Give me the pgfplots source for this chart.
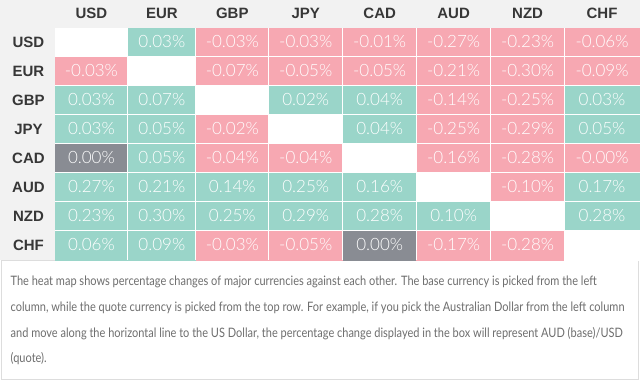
\documentclass[border=0pt]{standalone}
\usepackage{pgfplots}
\pgfplotsset{compat=1.18}
\usepackage{pgfplotstable}
\usepackage{fontspec}
\setmainfont{Lato}
\newfontfamily\hdrfont{Liberation Sans}
\newfontfamily\numfont{Lato Light}
\newfontfamily\descfont[FakeStretch=0.847]{Lato}
\definecolor{bgrey}{HTML}{F2F2F2}
\definecolor{hdrtxt}{HTML}{373737}
\definecolor{desctxt}{HTML}{6E6E6E}
\definecolor{boxline}{HTML}{DDDDDD}

% cell corners: class 0 white, 1 green, 2 pink, 3 grey (class of the cell whose top-left corner this is)
\pgfplotstableread{
x y c
55 28 0
128 28 1
196 28 2
269 28 2
343 28 2
417 28 2
491 28 2
565 28 2
640 28 0
55 57 2
128 57 0
196 57 2
269 57 2
343 57 2
417 57 2
491 57 2
565 57 2
640 57 0
55 86 1
128 86 1
196 86 0
269 86 1
343 86 1
417 86 2
491 86 2
565 86 1
640 86 0
55 115 1
128 115 1
196 115 2
269 115 0
343 115 1
417 115 2
491 115 2
565 115 1
640 115 0
55 144 3
128 144 1
196 144 2
269 144 2
343 144 0
417 144 2
491 144 2
565 144 2
640 144 0
55 173 1
128 173 1
196 173 1
269 173 1
343 173 1
417 173 0
491 173 2
565 173 1
640 173 0
55 202 1
128 202 1
196 202 1
269 202 1
343 202 1
417 202 1
491 202 0
565 202 1
640 202 0
55 231 1
128 231 1
196 231 2
269 231 2
343 231 3
417 231 2
491 231 2
565 231 0
640 231 0
55 260 0
128 260 0
196 260 0
269 260 0
343 260 0
417 260 0
491 260 0
565 260 0
640 260 0
}\cells

\pgfplotstableread{
x y v
162 42 0.03
232.5 42 -0.03
306 42 -0.03
380 42 -0.01
454 42 -0.27
528 42 -0.23
602.5 42 -0.06
91.5 71 -0.03
232.5 71 -0.07
306 71 -0.05
380 71 -0.05
454 71 -0.21
528 71 -0.30
602.5 71 -0.09
91.5 100 0.03
162 100 0.07
306 100 0.02
380 100 0.04
454 100 -0.14
528 100 -0.25
602.5 100 0.03
91.5 129 0.03
162 129 0.05
232.5 129 -0.02
380 129 0.04
454 129 -0.25
528 129 -0.29
602.5 129 0.05
91.5 158 0.00
162 158 0.05
232.5 158 -0.04
306 158 -0.04
454 158 -0.16
528 158 -0.28
602.5 158 -0.00
91.5 187 0.27
162 187 0.21
232.5 187 0.14
306 187 0.25
380 187 0.16
528 187 -0.10
602.5 187 0.17
91.5 216 0.23
162 216 0.30
232.5 216 0.25
306 216 0.29
380 216 0.28
454 216 0.10
602.5 216 0.28
91.5 245 0.06
162 245 0.09
232.5 245 -0.03
306 245 -0.05
380 245 0.00
454 245 -0.17
528 245 -0.28
}\labels

\pgfplotstableread{
x y n
91.5 13.5 USD
162 13.5 EUR
232.5 13.5 GBP
306 13.5 JPY
380 13.5 CAD
454 13.5 AUD
528 13.5 NZD
602.5 13.5 CHF
28.5 42.5 USD
28.5 71.5 EUR
28.5 100.5 GBP
28.5 129.5 JPY
28.5 158.5 CAD
28.5 187.5 AUD
28.5 216.5 NZD
28.5 245.5 CHF
}\heads

\begin{document}
\begin{tikzpicture}
\begin{axis}[
  scale only axis, width=640pt, height=383pt,
  xmin=0, xmax=640, ymin=0, ymax=383, y dir=reverse,
  hide axis, clip=false,
  colormap={hm}{rgb255=(255,255,255) rgb255=(154,213,201) rgb255=(247,168,178) rgb255=(137,140,147)},
  colormap access=direct,
]
\fill[bgrey] (axis cs:0,0) rectangle (axis cs:640,260);
\draw[boxline, fill=white, line width=0.8pt] (axis cs:1.5,261) rectangle (axis cs:638.5,380);
\addplot[surf, shader=flat corner, mesh/cols=9, mesh/ordering=x varies, point meta=explicit]
  table[x=x, y=y, meta=c] {\cells};
\pgfplotsinvokeforeach{128,196,269,343,417,491,565}{
  \draw[white, line width=1pt] (axis cs:#1,28) -- (axis cs:#1,260);
}
\pgfplotsinvokeforeach{57,86,115,144,173,202,231}{
  \draw[white, line width=1pt] (axis cs:55,#1) -- (axis cs:640,#1);
}
\addplot[draw=none, mark=none, point meta=explicit symbolic,
  nodes near coords={\pgfplotspointmeta\%},
  nodes near coords style={anchor=center, inner sep=0pt, text=white, font=\numfont\fontsize{17}{17}\selectfont}]
  table[x=x, y=y, meta=v] {\labels};
\addplot[draw=none, mark=none, point meta=explicit symbolic,
  nodes near coords={\pgfplotspointmeta},
  nodes near coords style={anchor=center, inner sep=0pt, text=hdrtxt, font=\hdrfont\bfseries\fontsize{15}{15}\selectfont}]
  table[x=x, y=y, meta=n] {\heads};
\begin{scope}[every node/.style={anchor=base west, inner sep=0pt, text=desctxt, font=\descfont\fontsize{13}{15}\selectfont}]
\node at (axis cs:10.5,285.5) {The heat map shows percentage changes of major currencies against each other. The base currency is picked from the left};
\node at (axis cs:10.5,311.5) {column, while the quote currency is picked from the top row. For example, if you pick the Australian Dollar from the left column};
\node at (axis cs:10.5,337.5) {and move along the horizontal line to the US Dollar, the percentage change displayed in the box will represent AUD (base)/USD};
\node at (axis cs:10.5,363) {(quote).};
\end{scope}
\end{axis}
\end{tikzpicture}
\end{document}
